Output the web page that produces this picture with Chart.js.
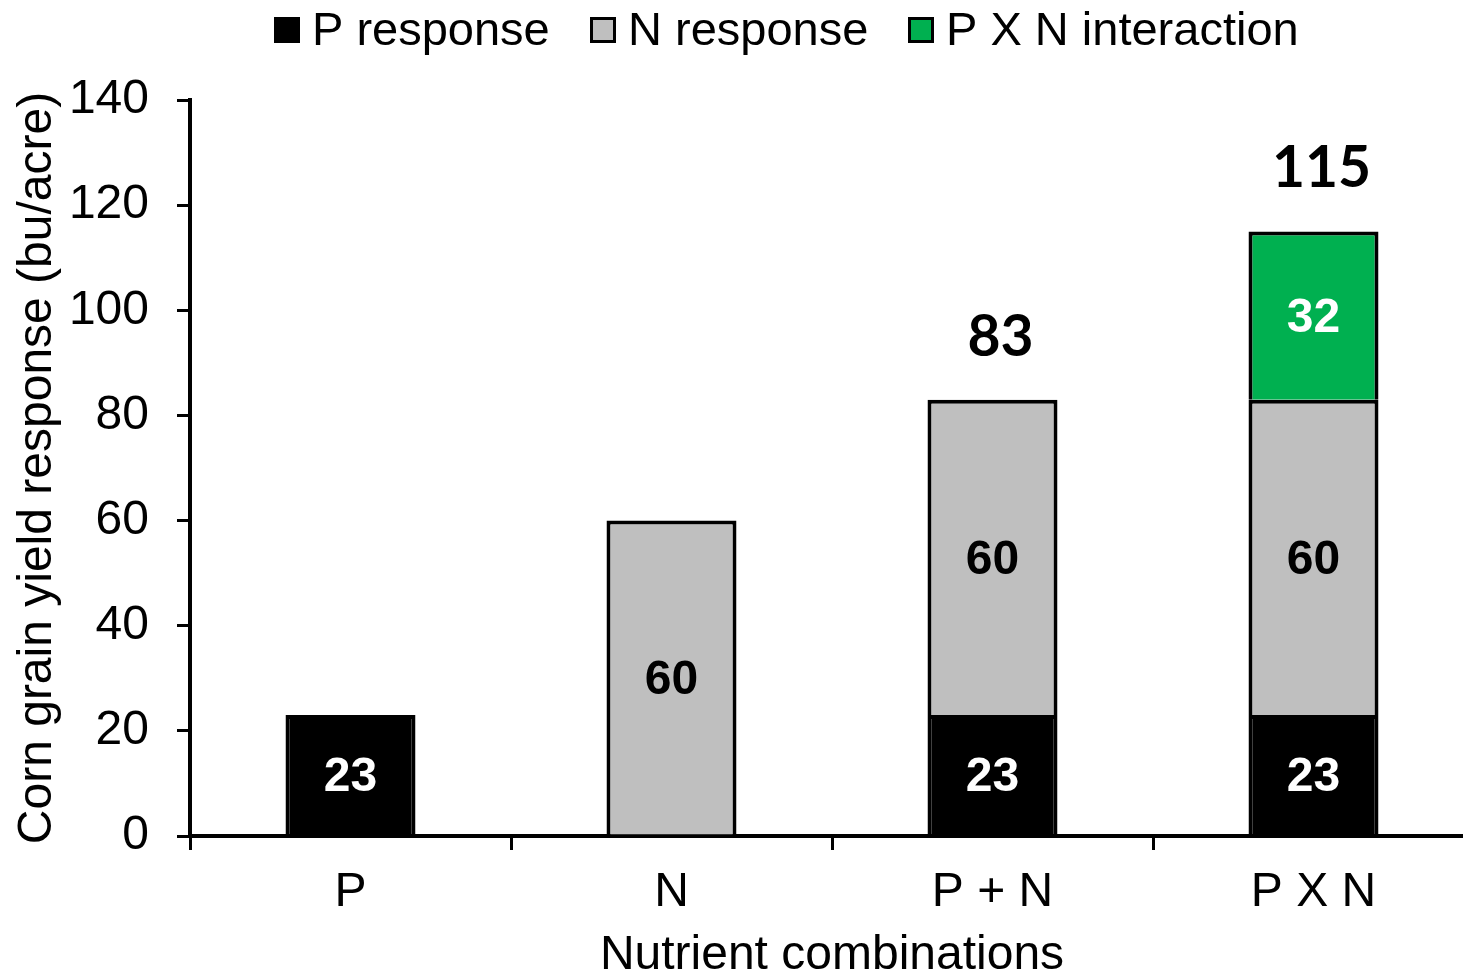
<!DOCTYPE html>
<html>
<head>
<meta charset="utf-8">
<title>Corn grain yield response</title>
<script src="https://cdn.jsdelivr.net/npm/chart.js@4.4.1/dist/chart.umd.min.js"></script>
<style>
  html, body { margin: 0; padding: 0; background: #fff; overflow: hidden; }
</style>
</head>
<body>
<canvas id="yield-chart" width="1480" height="976"></canvas>
<script>
const categories = ['P', 'N', 'P + N', 'P X N'];
const pResponse = [23, null, 23, 23];
const nResponse = [null, 60, 60, 60];
const pxnInteraction = [null, null, null, 32];
const yTicks = [0, 20, 40, 60, 80, 100, 120, 140];

const FONT = "'Liberation Sans', Arial, sans-serif";

// values inside each segment, plus the total above stacks with more than one part
const barLabels = {
    id: 'barLabels',
    afterDatasetsDraw(chart) {
        const ctx = chart.ctx;
        ctx.save();
        ctx.textAlign = 'center';
        ctx.textBaseline = 'middle';
        ctx.font = 'bold 48px ' + FONT;
        chart.data.datasets.forEach((ds, i) => {
            chart.getDatasetMeta(i).data.forEach((bar, j) => {
                const v = ds.data[j];
                if (v == null) return;
                ctx.fillStyle = ds.labelColor;
                ctx.fillText(v, bar.x, (bar.y + bar.base) / 2 + 3);
            });
        });

        ctx.font = 'bold 57px Lato, ' + FONT;
        ctx.fillStyle = '#000';
        ctx.textBaseline = 'alphabetic';
        categories.forEach((c, j) => {
            const parts = chart.data.datasets.map(ds => ds.data[j]).filter(v => v != null);
            if (parts.length < 2) return;
            const total = parts.reduce((a, b) => a + b, 0);
            const top = chart.scales.y.getPixelForValue(total);
            const x = chart.scales.x.getPixelForValue(j);
            ctx.fillText(total, x + 8, top - 44);
        });
        ctx.restore();
    }
};

// legend row across the top: square swatch, then the series name
const topLegend = {
    id: 'topLegend',
    afterDraw(chart) {
        const ctx = chart.ctx;
        const box = 26, gap = 12, spacing = 40, baseline = 45, centerX = 786;
        ctx.save();
        ctx.font = '47px ' + FONT;
        const items = chart.data.datasets.map(ds => ({
            text: ds.label,
            color: ds.backgroundColor,
            w: ctx.measureText(ds.label).width
        }));
        const total = items.reduce((s, it) => s + box + gap + it.w, 0) + spacing * (items.length - 1);
        let x = Math.round(centerX - total / 2);
        ctx.textAlign = 'left';
        ctx.textBaseline = 'alphabetic';
        items.forEach(it => {
            ctx.fillStyle = it.color;
            ctx.fillRect(x, 17, box, box);
            ctx.strokeStyle = '#000';
            ctx.lineWidth = 3;
            ctx.strokeRect(x + 1.5, 18.5, box - 3, box - 3);
            ctx.fillStyle = '#000';
            ctx.fillText(it.text, x + box + gap, baseline);
            x += Math.round(box + gap + it.w + spacing);
        });
        ctx.restore();
    }
};

new Chart(document.getElementById('yield-chart'), {
    type: 'bar',
    data: {
        labels: categories,
        datasets: [
            { label: 'P response', data: pResponse, backgroundColor: '#000000', labelColor: '#ffffff' },
            { label: 'N response', data: nResponse, backgroundColor: '#bfbfbf', labelColor: '#000000' },
            { label: 'P X N interaction', data: pxnInteraction, backgroundColor: '#00b050', labelColor: '#ffffff' }
        ]
    },
    options: {
        responsive: false,
        animation: false,
        devicePixelRatio: 1,
        layout: { padding: { top: 100, right: 6, left: 0, bottom: 0 } },
        datasets: {
            bar: { borderColor: '#000', borderWidth: 4, barPercentage: 0.405, categoryPercentage: 1 }
        },
        plugins: {
            legend: { display: false },
            tooltip: { enabled: false }
        },
        scales: {
            x: {
                stacked: true,
                grid: { drawOnChartArea: false, drawTicks: true, tickLength: 14, lineWidth: 3, color: '#000', offset: true },
                border: { display: true, color: '#000', width: 4 },
                ticks: { color: '#000', font: { family: FONT, size: 48 }, padding: 14 },
                title: {
                    display: true,
                    text: 'Nutrient combinations',
                    color: '#000',
                    font: { family: FONT, size: 48, lineHeight: 0.85 },
                    padding: 0
                },
                afterFit(scale) { scale.height = 140; }
            },
            y: {
                stacked: true,
                min: 0,
                max: 140,
                afterBuildTicks(scale) { scale.ticks = yTicks.map(v => ({ value: v })); },
                grid: { drawOnChartArea: false, tickLength: 13, lineWidth: 3, color: '#000' },
                border: { display: true, color: '#000', width: 4 },
                ticks: { color: '#000', font: { family: FONT, size: 48 }, padding: 28 },
                title: {
                    display: true,
                    text: 'Corn grain yield response (bu/acre)',
                    color: '#000',
                    font: { family: FONT, size: 48, lineHeight: 1.2 },
                    padding: { top: 9, bottom: 0 }
                },
                afterFit(scale) { scale.width = 190; }
            }
        }
    },
    plugins: [barLabels, topLegend]
});
</script>
</body>
</html>
